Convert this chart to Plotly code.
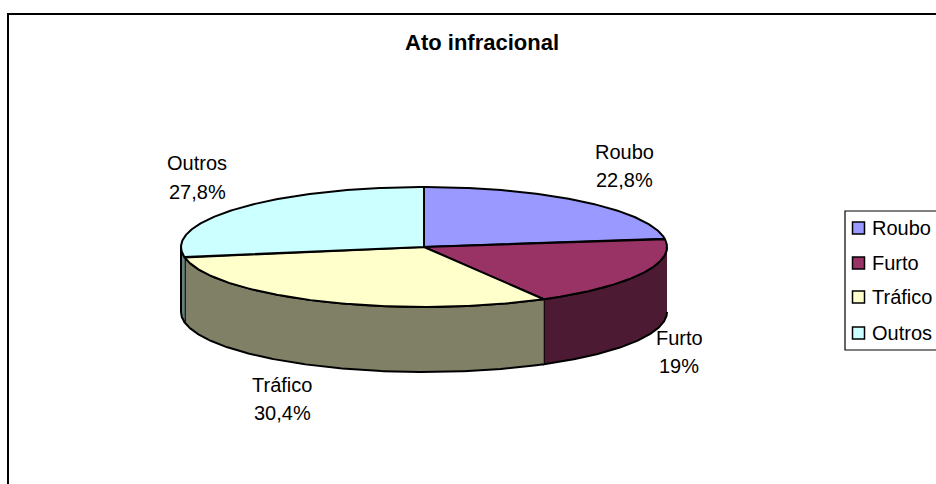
import math
import plotly.graph_objects as go

title = "Ato infracional"
categories = ["Roubo", "Furto", "Tráfico", "Outros"]
values = [22.8, 19.0, 30.4, 27.8]
value_labels = ["22,8%", "19%", "30,4%", "27,8%"]

top_colors = ["#9999FF", "#993366", "#FFFFCC", "#CCFFFF"]
side_colors = ["#4D4D80", "#4D1A33", "#808066", "#668080"]
label_pos = [(624, 152, 180), (679, 338, 366), (282, 385, 413), (197, 163, 192)]
legend_y = [228, 263, 297, 333]

W, H = 936, 484
CX, CY, RX, RY, DEPTH = 424, 247, 243, 60, 65
FONT = "Liberation Sans, Arial, sans-serif"
FS = 20


def rim(a, b, dy=0.0, n=None):
    n = n or max(2, int(abs(b - a) * 2))
    pts = []
    for i in range(n + 1):
        t = math.radians(a + (b - a) * i / n)
        pts.append((CX + RX * math.sin(t), CY + dy - RY * math.cos(t)))
    return pts


def poly(pts, color, lw=2):
    return go.Scatter(
        x=[p[0] for p in pts], y=[p[1] for p in pts],
        mode="lines", fill="toself", fillcolor=color,
        line=dict(color="black", width=lw), hoverinfo="skip", showlegend=False,
    )


fig = go.Figure()

total = sum(values)
angles = [0.0]
for v in values:
    angles.append(angles[-1] + v / total * 360)

for i in range(len(values)):
    a, b = max(angles[i], 90), min(angles[i + 1], 270)
    if b > a:
        fig.add_trace(poly(rim(a, b) + rim(b, a, DEPTH), side_colors[i]))

for i in range(len(values)):
    fig.add_trace(poly([(CX, CY)] + rim(angles[i], angles[i + 1]) + [(CX, CY)], top_colors[i]))

# legend: swatches and names
fig.add_trace(go.Scatter(
    x=[858.5] * 4, y=legend_y, mode="markers", showlegend=False, hoverinfo="skip",
    marker=dict(symbol="square", size=12, color=top_colors, line=dict(color="black", width=1.5)),
))
fig.add_trace(go.Scatter(
    x=[872] * 4, y=[v + 2 for v in legend_y], mode="text", text=categories, textposition="middle right",
    showlegend=False, hoverinfo="skip",
    textfont=dict(family=FONT, size=FS, color="black"),
))

annotations = []
for (x, y1, y2), c, v in zip(label_pos, categories, value_labels):
    for y, t in ((y1, c), (y2, v)):
        annotations.append(dict(x=x, y=y, xref="x", yref="y", text=t, showarrow=False,
                                font=dict(family=FONT, size=FS, color="black")))
annotations.append(dict(x=482, y=42, xref="x", yref="y", text=f"<b>{title}</b>", showarrow=False,
                        font=dict(family=FONT, size=22, color="black")))

fig.update_layout(
    width=W, height=H, margin=dict(l=0, r=0, t=0, b=0),
    paper_bgcolor="white", plot_bgcolor="white", showlegend=False,
    xaxis=dict(range=[0, W], visible=False, fixedrange=True),
    yaxis=dict(range=[H, 0], visible=False, fixedrange=True),
    annotations=annotations,
    shapes=[
        dict(type="path", path=f"M 8 {H} L 8 14 L {W} 14", xref="x", yref="y",
             line=dict(color="black", width=2)),
        dict(type="path", path=f"M {W} 211 L 845 211 L 845 350 L {W} 350", xref="x", yref="y",
             line=dict(color="black", width=1.2)),
    ],
)

fig.write_html("out.html", config={"displayModeBar": False},
               post_script="document.body.style.margin='0';document.documentElement.style.overflow='hidden';document.body.style.overflow='hidden';")
